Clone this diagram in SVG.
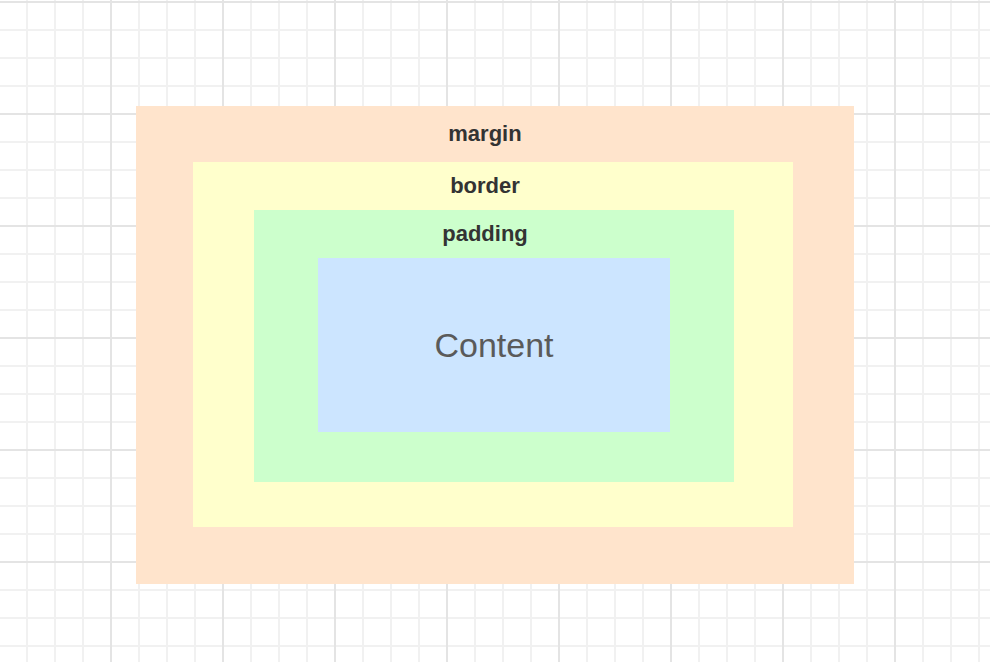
<svg xmlns="http://www.w3.org/2000/svg" width="990" height="662" viewBox="0 0 990 662">
<defs>
<pattern id="minor" x="-1" y="1" width="28" height="28" patternUnits="userSpaceOnUse">
<rect x="0" y="0" width="28" height="2" fill="#f1f1f1"/>
<rect x="0" y="0" width="2" height="28" fill="#f1f1f1"/>
</pattern>
<pattern id="major" x="-1" y="1" width="112" height="112" patternUnits="userSpaceOnUse">
<rect x="0" y="0" width="112" height="2" fill="#e4e4e4"/>
<rect x="0" y="0" width="2" height="112" fill="#e4e4e4"/>
</pattern>
</defs>
<style>
.lbl{font-family:"Liberation Sans",Arial,sans-serif;font-size:22px;font-weight:bold;fill:#333333;text-anchor:middle}
.content{font-family:"Liberation Sans",Arial,sans-serif;font-size:34px;fill:#5a5a5a;text-anchor:middle}
</style>
<rect width="990" height="662" fill="#ffffff"/>
<g transform="translate(-1,0)">
<rect width="992" height="662" fill="url(#minor)"/>
<rect width="992" height="662" fill="url(#major)"/>
</g>
<g id="margin">
<rect x="136" y="106" width="718" height="478" fill="#ffe4cc"/>
<text class="lbl" x="485" y="141">margin</text>
</g>
<g id="border">
<rect x="193" y="162" width="600" height="365" fill="#ffffcc"/>
<text class="lbl" x="485" y="193">border</text>
</g>
<g id="padding">
<rect x="254" y="210" width="480" height="272" fill="#ccffcc"/>
<text class="lbl" x="485" y="241">padding</text>
</g>
<g id="content">
<rect x="318" y="258" width="352" height="174" fill="#cce5ff"/>
<text class="content" x="494" y="357">Content</text>
</g>
<g id="connectors"/>
</svg>
